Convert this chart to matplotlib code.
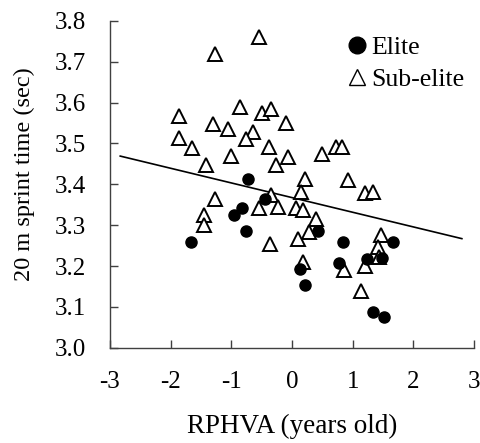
import matplotlib
matplotlib.use("Agg")
import matplotlib.pyplot as plt
from matplotlib.lines import Line2D

plt.rcParams['font.family'] = ['Liberation Serif', 'DejaVu Serif']

# Elite players (filled circles)
elite_x = [-1.67, -0.83, -0.96, -0.75, -0.44, -0.72, 0.43, 0.14, 0.21,
           0.84, 0.77, 1.23, 1.49, 1.67, 1.33, 1.51]
elite_y = [3.259, 3.342, 3.324, 3.286, 3.363, 3.412, 3.286, 3.192, 3.153,
           3.258, 3.208, 3.217, 3.219, 3.260, 3.088, 3.076]

# Sub-elite players (open triangles)
sub_x = [-0.54, -1.27, -1.86, -0.86, -0.50, -0.34, -0.09, -1.30, -1.05, -0.64,
         -0.75, -1.86, -1.64, -0.38, -1.01, -0.07, -1.41, -0.27, 0.50, 0.73,
         0.83, -1.27, -1.45, -1.45, -0.54, -0.34, -0.23, -0.36, 0.21, 0.92,
         1.20, 1.33, 0.15, 0.06, 0.18, 0.40, 0.28, 0.10, 0.18, 0.85,
         1.46, 1.41, 1.43, 1.20, 1.13]
sub_y = [3.760, 3.720, 3.567, 3.588, 3.575, 3.585, 3.549, 3.547, 3.536, 3.528,
         3.510, 3.514, 3.490, 3.491, 3.469, 3.467, 3.447, 3.447, 3.474, 3.491,
         3.491, 3.365, 3.326, 3.300, 3.341, 3.373, 3.345, 3.254, 3.414, 3.410,
         3.379, 3.381, 3.381, 3.341, 3.338, 3.314, 3.284, 3.267, 3.210, 3.190,
         3.276, 3.247, 3.221, 3.200, 3.139]

# Regression line end points
line_x = [-2.83, 2.80]
line_y = [3.469, 3.267]

x_ticks = [-3, -2, -1, 0, 1, 2, 3]
y_ticks = [3.0, 3.1, 3.2, 3.3, 3.4, 3.5, 3.6, 3.7, 3.8]

fig = plt.figure(figsize=(4.8, 4.43), dpi=100)
ax = fig.add_axes([0.229, 0.215, 0.7585, 0.738])

axis_col = '#404040'
fs = 18

ax.plot(line_x, line_y, color='black', lw=1.2, zorder=2)
ax.plot(sub_x, sub_y, linestyle='none', marker='^', ms=9.5, mfc='white',
        mec='black', mew=1.4, zorder=3)
ax.plot(elite_x, elite_y, linestyle='none', marker='o', ms=8, mfc='black',
        mec='black', zorder=4)

ax.set_xlim(-3, 3)
ax.set_ylim(3.0, 3.8)
ax.set_xticks(x_ticks)
ax.set_xticklabels([str(v) for v in x_ticks])
ax.set_yticks(y_ticks)
ax.set_yticklabels([f"{v:.1f}" for v in y_ticks])

for s in ['top', 'right']:
    ax.spines[s].set_visible(False)
for s in ['left', 'bottom']:
    ax.spines[s].set_color(axis_col)
    ax.spines[s].set_linewidth(1.0)

ax.tick_params(axis='both', direction='in', length=5.5, width=1.0,
               color=axis_col, labelsize=fs, pad=17)

ax.set_xlabel('RPHVA (years old)', fontsize=19.5, labelpad=15)
ax.set_ylabel('20 m sprint time (sec)', fontsize=17.5)
ax.yaxis.set_label_coords(-0.207, 0.531)

handles = [
    Line2D([], [], linestyle='none', marker='o', ms=12, mfc='black', mec='black'),
    Line2D([], [], linestyle='none', marker='^', ms=12, mfc='white', mec='black', mew=1.0),
]
ax.legend(handles, ['Elite', 'Sub-elite'], loc='upper left',
          bbox_to_anchor=(0.647, 0.955), frameon=False, fontsize=18.5,
          handlelength=0.9, handletextpad=0.1, labelspacing=0.37,
          borderpad=0.0, borderaxespad=0.0)

fig.savefig('out.png', dpi=100)
